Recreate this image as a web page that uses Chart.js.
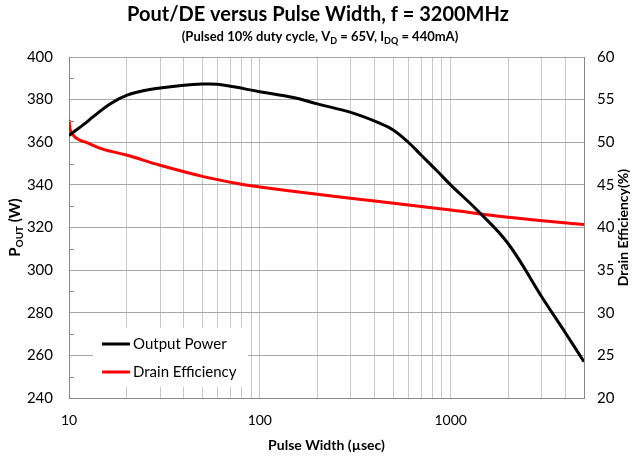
<!DOCTYPE html>
<html lang="en">
<head>
<meta charset="UTF-8">
<title>Pout/DE versus Pulse Width</title>
<script src="https://cdn.jsdelivr.net/npm/chart.js"></script>
<style>
  body { margin: 0; background: #fff; }
  #wrap { width: 634px; height: 460px; }
</style>
</head>
<body>
<div id="wrap"><canvas id="chart" width="634" height="460"></canvas></div>
<script>
// output power
var powerWidths = [10, 12, 13.4, 16.4, 20, 24.5, 30, 40, 50, 60, 73, 100, 150, 200, 300, 424, 500, 600, 700, 850, 1000, 1400, 2000, 3000, 4000, 5000];
var powerValues = [363.2, 368.5, 372, 378, 382, 384.2, 385.5, 386.8, 387.3, 387.2, 386, 383.7, 381, 378, 374, 369, 365.8, 360, 354, 346.5, 340, 327.5, 312.5, 287.5, 270.5, 257];

// drain efficiency, red curve (right axis)
var deWidths = [10, 10.2, 10.75, 11.4, 12.4, 15, 20, 30, 50, 78.6, 100, 200, 400, 1000, 2000, 5000];
var deValues = [52.6, 51.3, 50.6, 50.25, 49.95, 49.2, 48.5, 47.3, 46.0, 45.1, 44.75, 43.9, 43.1, 42.05, 41.2, 40.35];

// x grid lines and the ones that get a label
var xGrid = [10, 20, 30, 40, 50, 60, 70, 80, 90, 100, 200, 300, 400, 500, 600, 700, 800, 900, 1000, 2000, 3000, 4000, 5000];
var xLabels = [10, 100, 1000];
var leftMinor = [250, 270, 290, 310, 330, 350, 370, 390];

var FONT = 'Lato';

function toPoints(xs, ys) {
    return xs.map(function (x, i) { return { x: x, y: ys[i] }; });
}

// draws text with subscript pieces, centred on x
function richText(ctx, parts, x, y, size, subSize) {
    var total = 0;
    parts.forEach(function (p) {
        ctx.font = 'bold ' + (p.sub ? subSize : size) + 'px ' + FONT;
        p.w = ctx.measureText(p.t).width;
        total += p.w;
    });
    var cx = x - total / 2;
    ctx.textAlign = 'left';
    ctx.textBaseline = 'middle';
    parts.forEach(function (p) {
        ctx.font = 'bold ' + (p.sub ? subSize : size) + 'px ' + FONT;
        ctx.fillText(p.t, cx, p.sub ? y + size * 0.3 : y);
        cx += p.w;
    });
}

var textPlugin = {
    id: 'texts',
    afterDraw: function (chart) {
        var ctx = chart.ctx;
        var area = chart.chartArea;
        var yL = chart.scales.y;
        ctx.save();
        ctx.fillStyle = '#000';

        // minor ticks inside the left axis
        ctx.strokeStyle = '#888';
        ctx.lineWidth = 1;
        leftMinor.forEach(function (v) {
            var py = Math.round(yL.getPixelForValue(v)) + 0.5;
            ctx.beginPath();
            ctx.moveTo(area.left, py);
            ctx.lineTo(area.left + 5, py);
            ctx.stroke();
        });

        // titles
        richText(ctx, [{ t: 'Pout/DE versus Pulse Width, f = 3200MHz' }], 318, 15, 20, 20);
        richText(ctx, [
            { t: '(Pulsed 10% duty cycle, V' }, { t: 'D', sub: true },
            { t: ' = 65V, I' }, { t: 'DQ', sub: true }, { t: ' = 440mA)' }
        ], 320, 37, 13, 9);

        var midY = (area.top + area.bottom) / 2;
        ctx.save();
        ctx.translate(15, midY);
        ctx.rotate(-Math.PI / 2);
        richText(ctx, [{ t: 'P' }, { t: 'OUT', sub: true }, { t: ' (W)' }], 0, 0, 15, 10);
        ctx.restore();

        ctx.save();
        ctx.translate(623, midY);
        ctx.rotate(-Math.PI / 2);
        richText(ctx, [{ t: 'Drain Efficiency(%)' }], 0, 0, 14, 14);
        ctx.restore();

        // legend box inside the plot
        var bx = area.left + 24, by = area.bottom - 70;
        ctx.fillStyle = '#fff';
        ctx.fillRect(bx, by, 155, 59);
        chart.data.datasets.forEach(function (ds, i) {
            var ly = by + 16 + i * 28;
            ctx.strokeStyle = ds.borderColor;
            ctx.lineWidth = 3;
            ctx.beginPath();
            ctx.moveTo(bx + 9, ly);
            ctx.lineTo(bx + 37, ly);
            ctx.stroke();
            ctx.fillStyle = '#000';
            ctx.font = '15px ' + FONT;
            ctx.textAlign = 'left';
            ctx.textBaseline = 'middle';
            ctx.fillText(ds.label, bx + 40, ly);
        });
        ctx.restore();
    }
};

new Chart(document.getElementById('chart'), {
    type: 'line',
    data: {
        datasets: [{
            label: 'Output Power',
            data: toPoints(powerWidths, powerValues),
            borderColor: '#000000',
            borderWidth: 3,
            yAxisID: 'y',
            tension: 0.4
        }, {
            label: 'Drain Efficiency',
            data: toPoints(deWidths, deValues),
            borderColor: '#ff0000',
            borderWidth: 3,
            yAxisID: 'y1',
            tension: 0.4
        }]
    },
    options: {
        responsive: false,
        animation: false,
        elements: { point: { radius: 0 } },
        layout: { padding: { top: 57, left: 0, right: 0, bottom: 0 } },
        plugins: {
            legend: { display: false },
            tooltip: { enabled: false }
        },
        scales: {
            x: {
                type: 'logarithmic',
                min: 10,
                max: 5000,
                afterBuildTicks: function (s) {
                    s.ticks = xGrid.map(function (v) { return { value: v }; });
                },
                afterFit: function (s) {
                    s.height = 62;
                    s.paddingLeft = 0;
                    s.paddingRight = 0;
                },
                ticks: {
                    autoSkip: false,
                    maxRotation: 0,
                    padding: 14,
                    color: '#000',
                    font: { family: FONT, size: 14 },
                    callback: function (v) {
                        return xLabels.indexOf(v) >= 0 ? String(v) : '';
                    }
                },
                grid: { color: '#c8c8c8', drawTicks: false },
                border: { color: '#888' },
                title: {
                    display: true,
                    text: 'Pulse Width (µsec)',
                    color: '#000',
                    font: { family: FONT, size: 14, weight: 'bold' },
                    padding: { top: 0, bottom: 6 }
                }
            },
            y: {
                position: 'left',
                min: 240,
                max: 400,
                afterFit: function (s) {
                    s.width = 69;
                    s.paddingTop = 0;
                    s.paddingBottom = 0;
                },
                ticks: {
                    stepSize: 20,
                    padding: 16,
                    color: '#000',
                    font: { family: FONT, size: 15 }
                },
                grid: { color: '#a6a6a6', drawTicks: false },
                border: { color: '#888' }
            },
            y1: {
                position: 'right',
                min: 20,
                max: 60,
                afterFit: function (s) {
                    s.width = 50;
                    s.paddingTop = 0;
                    s.paddingBottom = 0;
                },
                ticks: {
                    stepSize: 5,
                    padding: 13,
                    color: '#000',
                    font: { family: FONT, size: 15 }
                },
                grid: { drawOnChartArea: false, drawTicks: false },
                border: { color: '#888' }
            }
        }
    },
    plugins: [textPlugin]
});
</script>
</body>
</html>
